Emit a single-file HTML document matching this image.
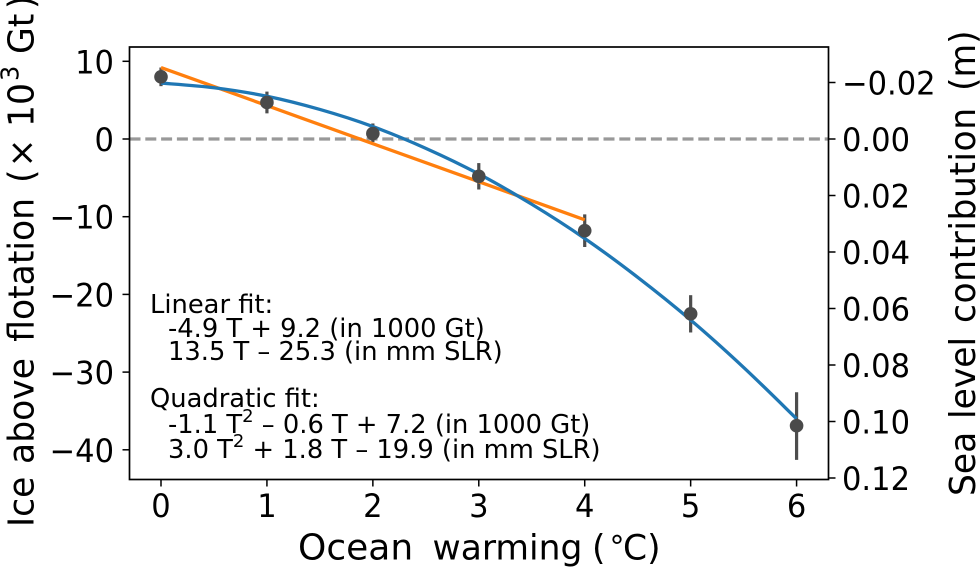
<!DOCTYPE html>
<html>
<head>
<meta charset="utf-8">
<title>Ice above flotation vs ocean warming</title>
<style>
html,body{margin:0;padding:0;background:#fff;}
svg{display:block;font-family:"DejaVu Sans","Liberation Sans",sans-serif;fill:#000;}
.ann{font-size:25.75px;}
</style>
</head>
<body>
<svg id="chart" width="980" height="568" viewBox="0 0 980 568" xmlns="http://www.w3.org/2000/svg">
  <g id="dash"></g>
  <g id="errs"></g>
  <g id="fits"></g>
  <g id="pts"></g>
  <rect x="129.5" y="47" width="699" height="432.5" fill="none" stroke="#000" stroke-width="1.7"></rect>
  <g id="ticks"></g>
  <text y="559.5" font-size="34.5"><tspan x="298" font-size="36">Ocean</tspan><tspan x="432.5">warming</tspan><tspan x="592">(</tspan><tspan x="609.5" font-size="30" dy="-2.5">°</tspan><tspan x="623" dy="2.5">C)</tspan></text>
  <text transform="translate(33.5 0) rotate(-90) scale(.96 1)" font-size="36"><tspan x="-549">Ice</tspan><tspan x="-483.3">above</tspan><tspan x="-356">flotation</tspan><tspan x="-190.6">(</tspan><tspan x="-174.5">×</tspan><tspan x="-132.3">10</tspan><tspan x="-84.4" font-size="25" dy="-15">3</tspan><tspan x="-56.25" dy="15">Gt</tspan><tspan x="-9.4">)</tspan></text>
  <text transform="translate(975 0) rotate(-90) scale(.96 1)" font-size="36"><tspan x="-516.7">Sea</tspan><tspan x="-436.5">level</tspan><tspan x="-336.5" letter-spacing=".55">contribution</tspan><tspan x="-94.8">(m)</tspan></text>
  <g class="ann">
    <text x="150" y="313">Linear fit:</text>
    <text x="168" y="337">-4.9 T + 9.2 (in 1000 Gt)</text>
    <text x="168" y="360">13.5 T – 25.3 (in mm SLR)</text>
    <text x="150" y="407">Quadratic fit:</text>
    <text x="168" y="433">-1.1 T<tspan font-size="18" dy="-11">2</tspan><tspan dy="11"> – 0.6 T + 7.2 (in 1000 Gt)</tspan></text>
    <text x="168" y="458">3.0 T<tspan font-size="18" dy="-11">2</tspan><tspan dy="11"> + 1.8 T – 19.9 (in mm SLR)</tspan></text>
  </g>
</svg>
<script>
const warming = [0, 1, 2, 3, 4, 5, 6];
const iceMean = [8.0, 4.7, 0.7, -4.8, -11.8, -22.5, -36.9];
const iceLow = [6.8, 3.3, -0.4, -6.5, -13.9, -24.9, -41.3];
const iceHigh = [9.2, 6.1, 2.0, -3.1, -9.7, -20.1, -32.6];
const linearT = [0, 1, 2, 3, 4];
const linearFit = [9.2, 4.3, -0.6, -5.5, -10.4];
const quadT = [0, 0.5, 1, 1.5, 2, 2.5, 3, 3.5, 4, 4.5, 5, 5.5, 6];
const quadFit = [7.2, 6.6, 5.5, 3.8, 1.6, -1.2, -4.5, -8.4, -12.8, -17.8, -23.3, -29.4, -36.0];
const xTicks = [0, 1, 2, 3, 4, 5, 6];
const xTickLabels = ['0', '1', '2', '3', '4', '5', '6'];
const leftTicks = [10, 0, -10, -20, -30, -40];
const leftTickLabels = ['10', '0', '\u221210', '\u221220', '\u221230', '\u221240'];
const rightTicks = [-0.02, 0, 0.02, 0.04, 0.06, 0.08, 0.10, 0.12];
const rightTickLabels = ['\u22120.02', '0.00', '0.02', '0.04', '0.06', '0.08', '0.10', '0.12'];

const NS = 'http://www.w3.org/2000/svg';
function xScale(v) { return 161 + 105.93 * v; }
function yLeft(v) { return 139 - 7.77 * v; }
function yRight(v) { return 139 + 2825 * v; }
function mk(tag, parent, attrs) {
  const e = document.createElementNS(NS, tag);
  for (const k in attrs) e.setAttribute(k, attrs[k]);
  parent.appendChild(e);
  return e;
}
function smoothPath(xs, ys) {
  const p = xs.map((x, i) => [xScale(x), yLeft(ys[i])]);
  let d = 'M' + p[0][0] + ' ' + p[0][1];
  for (let i = 0; i < p.length - 1; i++) {
    const a = p[Math.max(i - 1, 0)], b = p[i], c = p[i + 1], e = p[Math.min(i + 2, p.length - 1)];
    d += ' C' + (b[0] + (c[0] - a[0]) / 6) + ' ' + (b[1] + (c[1] - a[1]) / 6) + ' ' +
      (c[0] - (e[0] - b[0]) / 6) + ' ' + (c[1] - (e[1] - b[1]) / 6) + ' ' + c[0] + ' ' + c[1];
  }
  return d;
}

const dashG = document.getElementById('dash');
const zeroLine = mk('line', dashG, { x1: 129.5, x2: 828.5, y1: yLeft(0), y2: yLeft(0), stroke: '#999', 'stroke-width': 3.2, 'stroke-dasharray': '11 4.8' });



const errsG = document.getElementById('errs');
warming.forEach((t, i) => {
  const bar = mk('line', errsG, { x1: xScale(t), x2: xScale(t), y1: yLeft(iceLow[i]), y2: yLeft(iceHigh[i]), stroke: '#4d4d4d', 'stroke-width': 3.2 });
  
  
});

const fitsG = document.getElementById('fits');
const orange = mk('path', fitsG, { d: smoothPath(linearT, linearFit), fill: 'none', stroke: '#ff7f0e', 'stroke-width': 3.3 });


const blue = mk('path', fitsG, { d: smoothPath(quadT, quadFit), fill: 'none', stroke: '#1f77b4', 'stroke-width': 3.3 });



const ptsG = document.getElementById('pts');
warming.forEach((t, i) => {
  const dot = mk('circle', ptsG, { cx: xScale(t), cy: yLeft(iceMean[i]), r: 6.8, fill: '#4a4a4a' });
  
  
});

const ticksG = document.getElementById('ticks');
function tickLabel(parent, x, y, txt, anchor) {
  const t = mk('text', parent, { transform: 'translate(' + x + ' ' + y + ') scale(.955 1)', 'font-size': 32, 'text-anchor': anchor });
  t.textContent = txt;
  
  
}
function tickMark(parent, x1, y1, x2, y2) {
  const l = mk('line', parent, { x1: x1, y1: y1, x2: x2, y2: y2, stroke: '#000', 'stroke-width': 1.5 });
  
  
}
xTicks.forEach((v, i) => {
  tickMark(ticksG, xScale(v), 479.5, xScale(v), 486.5);
  tickLabel(ticksG, xScale(v), 517, xTickLabels[i], 'middle');
});
leftTicks.forEach((v, i) => {
  tickMark(ticksG, 122.5, yLeft(v), 129.5, yLeft(v));
  tickLabel(ticksG, 114, yLeft(v) + 12, leftTickLabels[i], 'end');
});
rightTicks.forEach((v, i) => {
  tickMark(ticksG, 828.5, yRight(v), 835.5, yRight(v));
  tickLabel(ticksG, 842, yRight(v) + 12, rightTickLabels[i], 'start');
});
</script>
</body>
</html>
